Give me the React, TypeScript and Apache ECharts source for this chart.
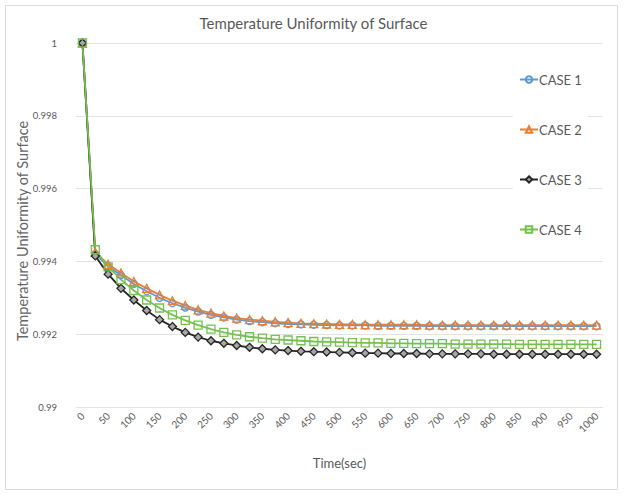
import { useEffect, useRef } from "react";
import * as echarts from "echarts";

// Sampling times (seconds)
const times = [
  "0", "25", "50", "75", "100", "125", "150", "175", "200", "225",
  "250", "275", "300", "325", "350", "375", "400", "425", "450", "475",
  "500", "525", "550", "575", "600", "625", "650", "675", "700", "725",
  "750", "775", "800", "825", "850", "875", "900", "925", "950", "975",
  "1000",
];

const case1 = [
  1, 0.9942, 0.99386, 0.99362, 0.99338, 0.99318, 0.993, 0.99285, 0.99273, 0.99262,
  0.99253, 0.99246, 0.9924, 0.99236, 0.99233, 0.9923, 0.99228, 0.99227, 0.99226, 0.99225,
  0.99224, 0.99224, 0.99224, 0.99223, 0.99223, 0.99223, 0.99223, 0.99222, 0.99222, 0.99222,
  0.99222, 0.99222, 0.99222, 0.99222, 0.99222, 0.99222, 0.99222, 0.99222, 0.99222, 0.99222,
  0.99222,
];

const case2 = [
  1, 0.99425, 0.99392, 0.99368, 0.99345, 0.99326, 0.99308, 0.99292, 0.99279, 0.99267,
  0.99258, 0.9925, 0.99244, 0.9924, 0.99237, 0.99234, 0.99232, 0.9923, 0.99229, 0.99228,
  0.99227, 0.99227, 0.99226, 0.99226, 0.99226, 0.99226, 0.99226, 0.99225, 0.99225, 0.99225,
  0.99225, 0.99225, 0.99225, 0.99225, 0.99225, 0.99225, 0.99225, 0.99225, 0.99225, 0.99225,
  0.99225,
];

const case3 = [
  1, 0.99415, 0.99365, 0.99326, 0.99294, 0.99265, 0.9924, 0.99221, 0.99205, 0.99192,
  0.99182, 0.99175, 0.99169, 0.99164, 0.9916, 0.99157, 0.99155, 0.99153, 0.99152, 0.99151,
  0.9915, 0.99149, 0.99148, 0.99148, 0.99147, 0.99147, 0.99147, 0.99146, 0.99146, 0.99146,
  0.99146, 0.99146, 0.99145, 0.99145, 0.99145, 0.99145, 0.99145, 0.99145, 0.99145, 0.99145,
  0.99145,
];

const case4 = [
  1, 0.99432, 0.99385, 0.9935, 0.9932, 0.99294, 0.99272, 0.99253, 0.99238, 0.99225,
  0.99214, 0.99205, 0.99198, 0.99193, 0.99189, 0.99186, 0.99184, 0.99182, 0.9918, 0.99179,
  0.99178, 0.99177, 0.99176, 0.99176, 0.99175, 0.99175, 0.99174, 0.99174, 0.99174, 0.99173,
  0.99173, 0.99173, 0.99173, 0.99173, 0.99172, 0.99172, 0.99172, 0.99172, 0.99172, 0.99172,
  0.99172,
];

const seriesNames = ["CASE 1", "CASE 2", "CASE 3", "CASE 4"];

const FONT = "Lato, 'Open Sans', sans-serif";
const TEXT = "#595959";
const GRID_LINE = "#e3e3e3";

export default function App() {
  const ref = useRef<HTMLDivElement>(null);

  useEffect(() => {
    if (!ref.current) return;
    const chart = echarts.init(ref.current, undefined, { renderer: "svg" });

    const lineSeries = (
      name: string,
      data: number[],
      color: string,
      symbol: string,
      fill: string,
      size: number
    ) => ({
      name,
      type: "line",
      data,
      symbol,
      symbolSize: size,
      showAllSymbol: true,
      lineStyle: { color, width: 1.8 },
      itemStyle: { color: fill, borderColor: color, borderWidth: 1.3 },
    });

    chart.setOption({
      animation: false,
      backgroundColor: "#ffffff",
      textStyle: { fontFamily: FONT },
      title: {
        text: "Temperature Uniformity of Surface",
        left: "center",
        top: 10,
        textStyle: { color: TEXT, fontSize: 15, fontWeight: "normal", fontFamily: FONT },
      },
      graphic: [
        {
          type: "rect",
          shape: { x: 5.5, y: 5.5, width: 612, height: 484 },
          style: { fill: "none", stroke: "#d9d9d9", lineWidth: 1 },
          silent: true,
        },
      ],
      legend: {
        data: seriesNames,
        orient: "vertical",
        left: 513,
        top: 64,
        itemGap: 35,
        itemWidth: 18,
        itemHeight: 8,
        padding: [8, 6, 8, 6],
        backgroundColor: "#ffffff",
        textStyle: {
          color: TEXT,
          fontSize: 13,
          lineHeight: 15,
          fontFamily: FONT,
          padding: [0, 0, 0, -4],
        },
      },
      grid: { left: 76, right: 24, top: 43, bottom: 87, containLabel: false },
      xAxis: {
        type: "category",
        data: times,
        boundaryGap: true,
        name: "Time(sec)",
        nameLocation: "middle",
        nameGap: 49,
        nameMoveOverlap: false,
        nameTextStyle: { color: TEXT, fontSize: 13, fontFamily: FONT },
        axisLine: { lineStyle: { color: GRID_LINE } },
        axisTick: { show: false },
        axisLabel: {
          interval: 1,
          rotate: 45,
          color: TEXT,
          fontSize: 10,
          margin: 7,
          fontFamily: FONT,
        },
      },
      yAxis: {
        type: "value",
        min: 0.99,
        max: 1,
        interval: 0.002,
        name: "Temperature Uniformity of Surface",
        nameLocation: "middle",
        nameGap: 46,
        nameMoveOverlap: false,
        nameTextStyle: {
          color: "#666666",
          fontSize: 14.5,
          fontFamily: FONT,
          padding: [0, 12, 0, 0],
        },
        axisLine: { show: false },
        axisTick: { show: false },
        axisLabel: {
          color: TEXT,
          fontSize: 9.5,
          margin: 19,
          fontFamily: FONT,
          formatter: (v: number) => String(+v.toFixed(3)),
        },
        splitLine: { lineStyle: { color: GRID_LINE, width: 1 } },
      },
      series: [
        lineSeries(seriesNames[0], case1, "#5b9bd5", "circle", "rgba(255,255,255,0)", 7),
        lineSeries(seriesNames[1], case2, "#ed7d31", "triangle", "rgba(255,255,255,0)", 8),
        lineSeries(seriesNames[2], case3, "#262626", "diamond", "#a6a6a6", 8),
        lineSeries(seriesNames[3], case4, "#74c150", "rect", "rgba(255,255,255,0)", 8),
      ],
    });

    return () => chart.dispose();
  }, []);

  return (
    <div
      ref={ref}
      style={{ position: "absolute", left: 0, top: 0, width: 627, height: 494 }}
    />
  );
}
